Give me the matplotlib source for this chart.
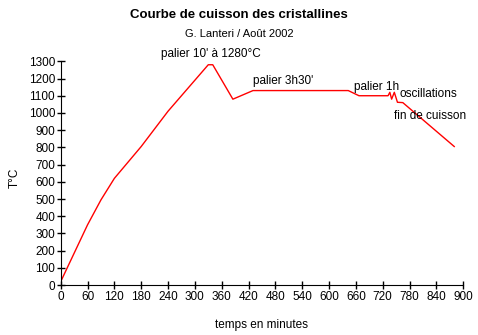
import matplotlib
matplotlib.use('Agg')
import matplotlib.pyplot as plt

plt.rcParams['font.family'] = ['Liberation Sans', 'DejaVu Sans']

# temps (minutes) et temperature (degres C)
temps = [0, 60, 90, 120, 180, 240, 330, 340, 385, 430, 643, 655, 667, 732,
         736, 740, 746, 753, 765, 880]
temp  = [20, 350, 495, 620, 805, 1010, 1280, 1280, 1080, 1130, 1130, 1115, 1100, 1100,
         1120, 1080, 1120, 1062, 1060, 805]

xticks = list(range(0, 901, 60))
yticks = list(range(0, 1301, 100))

notes = [("palier 10' à 1280°C", 335, 1305),
         ("palier 3h30'", 430, 1150),
         ("palier 1h", 656, 1115),
         ("oscillations", 757, 1075),
         ("fin de cuisson", 745, 945)]

fig = plt.figure(figsize=(4.78, 3.35), dpi=100)
ax = fig.add_axes([0.127, 0.149, 0.842, 0.668])

ax.plot(temps, temp, color='red', lw=1)
ax.set_xlim(0, 900)
ax.set_ylim(0, 1300)
ax.set_xticks(xticks)
ax.set_yticks(yticks)
ax.tick_params(direction='inout', length=6, width=1, labelsize=8.5, pad=1)
for s in ['top', 'right']:
    ax.spines[s].set_visible(False)

for txt, x, y in notes:
    ha = 'center' if txt.startswith("palier 10") else 'left'
    ax.text(x, y, txt, fontsize=8.5, ha=ha, va='bottom')

ax.set_xlabel('temps en minutes', fontsize=8.5)
ax.xaxis.set_label_coords(0.5, -0.15)
ax.set_ylabel('T°C', fontsize=8.5)
ax.yaxis.set_label_coords(-0.1, 0.48)

fig.text(0.5, 0.955, 'Courbe de cuisson des cristallines', ha='center',
         va='center', fontsize=9.5, fontweight='bold')
fig.text(0.5, 0.898, 'G. Lanteri / Août 2002', ha='center', va='center', fontsize=8)

fig.savefig('out.png', dpi=100)
